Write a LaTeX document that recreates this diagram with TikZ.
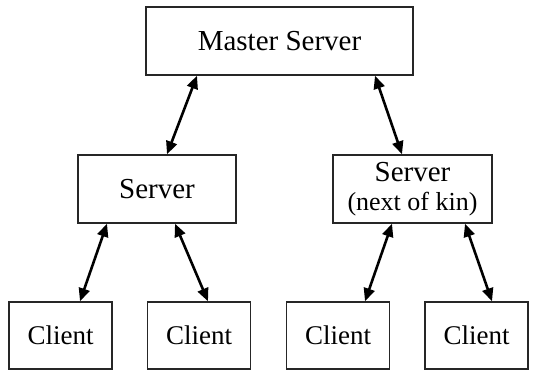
\documentclass[tikz,border=0pt]{standalone}
\usepackage{fontspec}
\setmainfont{Liberation Serif}
\usetikzlibrary{arrows.meta}

\begin{document}
\begin{tikzpicture}[x=1pt, y=-1pt,
    box/.style={draw=black!85, line width=1.4pt, inner sep=0pt,
        minimum height=68pt, align=center,
        font=\fontsize{29}{30}\selectfont},
    link/.style={line width=2.6pt,
        {Triangle[length=13pt,width=11pt]}-{Triangle[length=13pt,width=11pt]}}]
            \useasboundingbox (0,0) rectangle (555,371);
            % Master
            \node[box, minimum width=267pt] (Master) at (279.5,41) {Master Server};
            % Servers
            \node[box, minimum width=158pt] (Server-1) at (157,189) {Server};
            \node[box, minimum width=159pt] (Server-2) at (412.5,189)
                {Server\\[-1pt]{\fontsize{26}{26}\selectfont (next of kin)}};
            % Clients
            \foreach \x/\i in {60.5/1,199/2,338/3,476.5/4} {
                \node[box, minimum width=103pt, minimum height=67pt,
                    font=\fontsize{27}{28}\selectfont]
                (Client-\i) at (\x,335.5) {Client};
            }
            % Arrows
            \foreach \a/\as/\b/\bs in {Master/-82.5/Server-1/10,
                                       Master/95.5/Server-2/-10.5,
                                       Server-1/-50/Client-1/19.5,
                                       Server-1/18/Client-2/9,
                                       Server-2/-20.5/Client-3/27,
                                       Server-2/52.5/Client-4/15.5} {
                \draw[link] ([xshift=\as pt]\a.south) -- ([xshift=\bs pt]\b.north);
            }
        \end{tikzpicture}
\end{document}
